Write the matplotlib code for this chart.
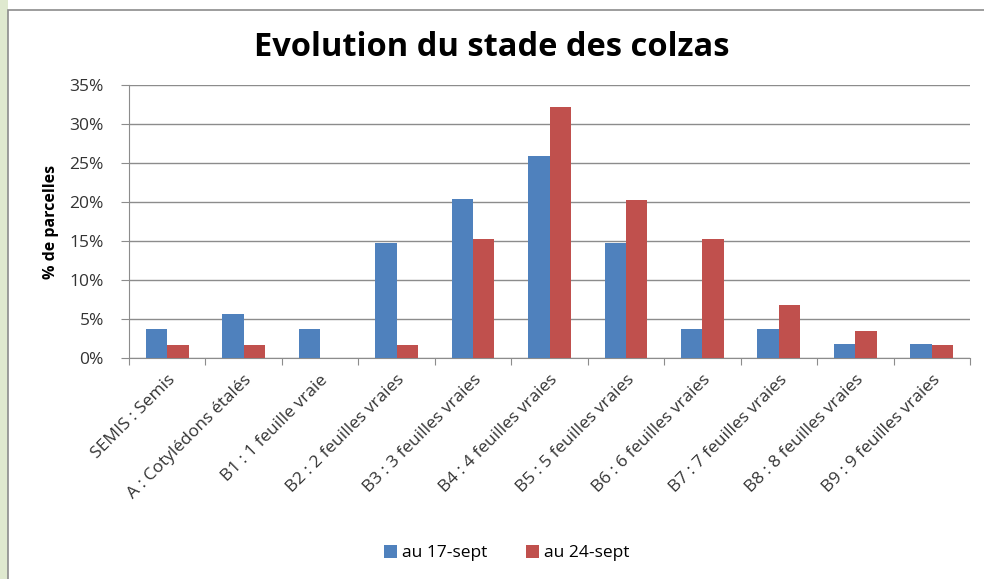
import matplotlib
matplotlib.use('Agg')
import matplotlib.pyplot as plt
from matplotlib.patches import Rectangle
import numpy as np

plt.rcParams['font.family'] = ['Open Sans', 'DejaVu Sans']

categories = ['SEMIS : Semis', 'A : Cotylédons étalés', 'B1 : 1 feuille vraie',
              'B2 : 2 feuilles vraies', 'B3 : 3 feuilles vraies', 'B4 : 4 feuilles vraies',
              'B5 : 5 feuilles vraies', 'B6 : 6 feuilles vraies', 'B7 : 7 feuilles vraies',
              'B8 : 8 feuilles vraies', 'B9 : 9 feuilles vraies']
sept17 = [3.7, 5.6, 3.7, 14.8, 20.4, 25.9, 14.8, 3.7, 3.7, 1.85, 1.85]
sept24 = [1.7, 1.7, 0.0, 1.7, 15.25, 32.2, 20.3, 15.25, 6.8, 3.4, 1.7]
series_names = ['au 17-sept', 'au 24-sept']
yticks = [0, 5, 10, 15, 20, 25, 30, 35]

fig = plt.figure(figsize=(9.84, 5.79), dpi=100)
fig.patch.set_facecolor('white')

# greenish background strip on the left and the chart frame
fig.patches.append(Rectangle((0, 0), 8 / 984, 1, transform=fig.transFigure,
                             facecolor='#dfe9cf', edgecolor='none', zorder=0))
fig.patches.append(Rectangle((8 / 984, -0.05), 1.0, 1 - 10 / 579 + 0.05,
                             transform=fig.transFigure, facecolor='none',
                             edgecolor='#8c8c8c', linewidth=1.2, zorder=1))

ax = fig.add_axes([129 / 984, 1 - 358 / 579, (970 - 129) / 984, (358 - 85) / 579])

x = np.arange(len(categories))
w = 0.28
ax.bar(x - w / 2, sept17, w, color='#4F81BD', label=series_names[0], zorder=3)
ax.bar(x + w / 2, sept24, w, color='#C0504D', label=series_names[1], zorder=3)

ax.set_xlim(-0.5, len(categories) - 0.5)
ax.set_ylim(0, 35)
ax.set_yticks(yticks)
ax.set_yticklabels([f'{v}%' for v in yticks], fontsize=12.5, color='#333333')
ax.yaxis.grid(True, color='#8c8c8c', linewidth=1)
ax.set_axisbelow(True)

ax.set_xticks(np.arange(len(categories) + 1) - 0.5)
ax.set_xticklabels([])
ax.set_xticks(x, minor=True)
ax.set_xticklabels(categories, minor=True, rotation=45, ha='right',
                   rotation_mode='anchor', fontsize=12.5, color='#333333')
ax.tick_params(axis='x', which='minor', length=0, pad=10)
ax.tick_params(axis='x', which='major', length=5, color='#8c8c8c')
ax.tick_params(axis='y', length=6, color='#8c8c8c', pad=12)

for side in ['top', 'right']:
    ax.spines[side].set_visible(False)
for side in ['left', 'bottom']:
    ax.spines[side].set_color('#8c8c8c')

ax.set_ylabel('% de parcelles', fontsize=11.5, fontweight='bold', labelpad=8)
fig.text(0.5, 1 - 47 / 579, 'Evolution du stade des colzas', ha='center', va='center',
         fontsize=23.5, fontweight='bold')

fig.legend(loc='center', bbox_to_anchor=(0.515, 1 - 553 / 579), ncol=2, frameon=False,
           fontsize=12.5, handlelength=0.75, handleheight=0.75, columnspacing=2.2,
           handletextpad=0.3)

fig.savefig('out.png', dpi=100)
